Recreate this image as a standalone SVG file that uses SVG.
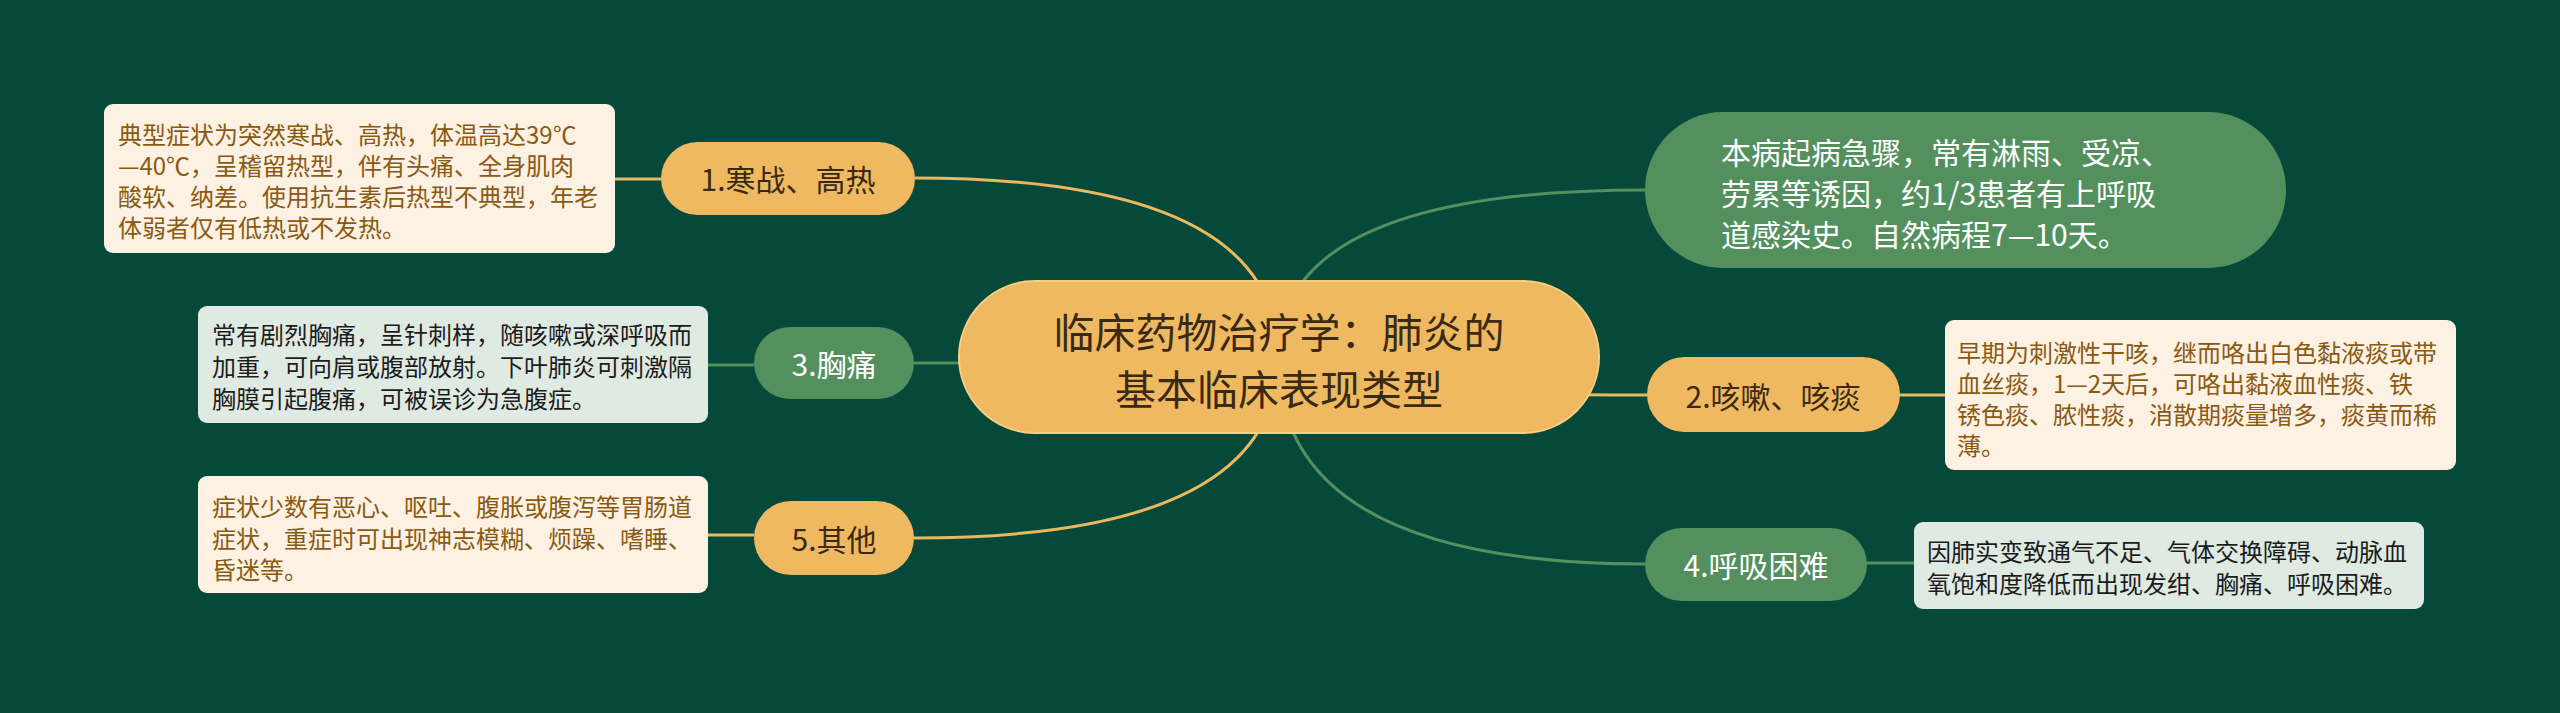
<svg xmlns="http://www.w3.org/2000/svg" width="2560" height="713" viewBox="0 0 2560 713">
<style>
text{font-family:"Noto Sans CJK SC","Noto Sans",sans-serif}
.bg{fill:#06483a}
.orange{fill:#efb961}
.green{fill:#53905e}
.cream{fill:#fcf1e3}
.mint{fill:#dfeae2}
.lo{stroke:#eab85f;stroke-width:3;fill:none}
.lg{stroke:#53905e;stroke-width:3;fill:none}
.tn{font-size:30px;text-anchor:middle;dominant-baseline:central}
.dk{fill:#3a2a14}
.wh{fill:#ffffff}
.td{font-size:24px;dominant-baseline:central}
.br{fill:#8a5a12}
.bk{fill:#1c1c1c}
.tr{font-size:30px;dominant-baseline:central;fill:#ffffff}
</style>
<rect class="bg" x="0" y="0" width="2560" height="713"/>
<g id="connectors">
<path class="lo" d="M1278,357 Q1278,178 915,178"/>
<path class="lg" d="M1278,357 Q1278,363 914,363"/>
<path class="lo" d="M1278,357 Q1278,538 914,538"/>
<path class="lg" d="M1278,357 Q1278,190 1646,190"/>
<path class="lo" d="M1278,357 Q1278,395 1647,395"/>
<path class="lg" d="M1278,357 Q1278,564 1646,564"/>
<path class="lo" d="M661,179 L613,179"/>
<path class="lg" d="M754,365 L706,365"/>
<path class="lo" d="M754,535 L706,535"/>
<path class="lo" d="M1899,395 L1947,395"/>
<path class="lg" d="M1866,563 L1916,563"/>
</g>
<g id="center">
<rect class="orange" x="959" y="281" width="640" height="152" rx="76" stroke="#f6cf80" stroke-width="2"/>
<text class="tn dk" style="font-size:41px" x="1279" y="330">临床药物治疗学：肺炎的</text>
<text class="tn dk" style="font-size:41px" x="1279" y="387">基本临床表现类型</text>
</g>
<g id="node1">
<rect class="orange" x="661" y="142" width="254" height="73" rx="36.5"/>
<text class="tn dk" x="788" y="178">1.寒战、高热</text>
</g>
<g id="detail1">
<rect class="cream" x="104" y="104" width="511" height="149" rx="9"/>
<text class="td br" x="118" y="133">典型症状为突然寒战、高热，体温高达39℃</text>
<text class="td br" x="118" y="164">—40℃，呈稽留热型，伴有头痛、全身肌肉</text>
<text class="td br" x="118" y="195">酸软、纳差。使用抗生素后热型不典型，年老</text>
<text class="td br" x="118" y="226">体弱者仅有低热或不发热。</text>
</g>
<g id="node3">
<rect class="green" x="754" y="327" width="160" height="72" rx="36"/>
<text class="tn wh" x="834" y="363">3.胸痛</text>
</g>
<g id="detail3">
<rect class="mint" x="198" y="306" width="510" height="117" rx="9"/>
<text class="td bk" x="212" y="333">常有剧烈胸痛，呈针刺样，随咳嗽或深呼吸而</text>
<text class="td bk" x="212" y="365">加重，可向肩或腹部放射。下叶肺炎可刺激隔</text>
<text class="td bk" x="212" y="397">胸膜引起腹痛，可被误诊为急腹症。</text>
</g>
<g id="node5">
<rect class="orange" x="754" y="501" width="160" height="74" rx="37"/>
<text class="tn dk" x="834" y="538">5.其他</text>
</g>
<g id="detail5">
<rect class="cream" x="198" y="476" width="510" height="117" rx="9"/>
<text class="td br" x="212" y="505">症状少数有恶心、呕吐、腹胀或腹泻等胃肠道</text>
<text class="td br" x="212" y="537">症状，重症时可出现神志模糊、烦躁、嗜睡、</text>
<text class="td br" x="212" y="568">昏迷等。</text>
</g>
<g id="nodeR">
<rect class="green" x="1645" y="112" width="641" height="156" rx="78"/>
<text class="tr" x="1721" y="151">本病起病急骤，常有淋雨、受凉、</text>
<text class="tr" x="1721" y="192">劳累等诱因，约1/3患者有上呼吸</text>
<text class="tr" x="1721" y="233">道感染史。自然病程7—10天。</text>
</g>
<g id="node2">
<rect class="orange" x="1647" y="357" width="253" height="75" rx="37.5"/>
<text class="tn dk" x="1773" y="395">2.咳嗽、咳痰</text>
</g>
<g id="detail2">
<rect class="cream" x="1945" y="320" width="511" height="150" rx="9"/>
<text class="td br" x="1957" y="351">早期为刺激性干咳，继而咯出白色黏液痰或带</text>
<text class="td br" x="1957" y="382">血丝痰，1—2天后，可咯出黏液血性痰、铁</text>
<text class="td br" x="1957" y="413">锈色痰、脓性痰，消散期痰量增多，痰黄而稀</text>
<text class="td br" x="1957" y="444">薄。</text>
</g>
<g id="node4">
<rect class="green" x="1645" y="528" width="222" height="73" rx="36.5"/>
<text class="tn wh" x="1756" y="564">4.呼吸困难</text>
</g>
<g id="detail4">
<rect class="mint" x="1914" y="522" width="510" height="87" rx="9"/>
<text class="td bk" x="1927" y="550">因肺实变致通气不足、气体交换障碍、动脉血</text>
<text class="td bk" x="1927" y="582">氧饱和度降低而出现发绀、胸痛、呼吸困难。</text>
</g>
</svg>
